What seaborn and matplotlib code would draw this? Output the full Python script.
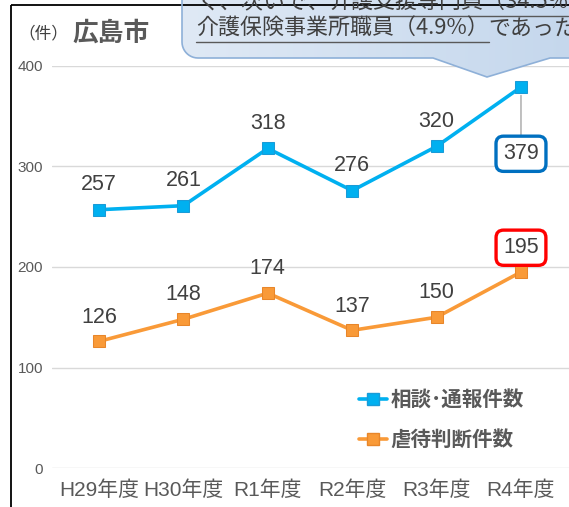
import numpy as np
import pandas as pd
import matplotlib.pyplot as plt
import seaborn as sns
from matplotlib.patches import Polygon
from matplotlib.lines import Line2D
from matplotlib.colors import LinearSegmentedColormap

# データ（広島市）
years = ["H29年度", "H30年度", "R1年度", "R2年度", "R3年度", "R4年度"]
consult = [257, 261, 318, 276, 320, 379]
abuse = [126, 148, 174, 137, 150, 195]
series_names = ["相談･通報件数", "虐待判断件数"]
yticks = [0, 100, 200, 300, 400]

BLUE = "#00B0F0"
BLUE_EDGE = "#1a9bd7"
ORANGE = "#F99A38"
ORANGE_EDGE = "#e8862a"
TXT = "#404040"

df_c = pd.DataFrame({"年度": years, "件数": consult})
df_a = pd.DataFrame({"年度": years, "件数": abuse})

sns.set_theme(style="white")
plt.rcParams["font.family"] = ["Liberation Sans", "Noto Sans CJK JP", "DejaVu Sans"]

W, H = 569, 507
fig = plt.figure(figsize=(W / 100, H / 100), dpi=100)
ax = fig.add_axes([52 / W, 39 / H, 517 / W, 402 / H])

sns.lineplot(data=df_c, x="年度", y="件数", color=BLUE, marker="s", markersize=9,
             markeredgecolor=BLUE_EDGE, linewidth=2.6, ax=ax, sort=False)
sns.lineplot(data=df_a, x="年度", y="件数", color=ORANGE, marker="s", markersize=9,
             markeredgecolor=ORANGE_EDGE, linewidth=2.6, ax=ax, sort=False)
for ln in ax.lines:
    ln.set_clip_on(False)
    ln.set_zorder(3)

ax.set_xlim(-0.557, 5.569)
ax.set_ylim(0, 400)
ax.set_yticks(yticks)
ax.set_xlabel("")
ax.set_ylabel("")
ax.grid(axis="y", color="#d9d9d9", lw=1)
ax.grid(axis="x", visible=False)
for s in ax.spines.values():
    s.set_visible(False)
ax.tick_params(axis="y", length=0, pad=6.5, labelsize=11, labelcolor="#595959")
ax.tick_params(axis="x", length=0, pad=9, labelsize=15, labelcolor="#595959")
ax.set_facecolor("none")

# データラベル
for i, v in enumerate(consult[:-1]):
    ax.annotate(str(v), (i, v), xytext=(0, 18), textcoords="offset points",
                ha="center", va="center", fontsize=15.5, color=TXT)
for i, v in enumerate(abuse[:-1]):
    ax.annotate(str(v), (i, v), xytext=(0, 17.5), textcoords="offset points",
                ha="center", va="center", fontsize=15.5, color=TXT)

# R4 強調ラベル
last = len(years) - 1
ax.annotate(str(consult[-1]), (last, consult[-1]), xytext=(0, -48), textcoords="offset points",
            ha="center", va="center", fontsize=15.5, color=TXT,
            bbox=dict(boxstyle="round,pad=0.33,rounding_size=0.35", fc="white", ec="#0070C0", lw=2.4),
            arrowprops=dict(arrowstyle="-", color="#a6a6a6", lw=1, shrinkA=0, shrinkB=6))
ax.annotate(str(abuse[-1]), (last, abuse[-1]), xytext=(0, 17.5), textcoords="offset points",
            ha="center", va="center", fontsize=15.5, color=TXT,
            bbox=dict(boxstyle="round,pad=0.33,rounding_size=0.35", fc="white", ec="#FF0000", lw=2.4))

handles = [Line2D([], [], color=BLUE, lw=2.6, marker="s", markersize=9, markeredgecolor=BLUE_EDGE),
           Line2D([], [], color=ORANGE, lw=2.6, marker="s", markersize=9, markeredgecolor=ORANGE_EDGE)]
ax.legend(handles, series_names, loc="upper left", bbox_to_anchor=(340 / W, 1 - 372 / H),
          bbox_transform=fig.transFigure, frameon=False, handlelength=1.4, handletextpad=0.15,
          labelspacing=0.95, prop=dict(weight="bold", size=14.8), labelcolor="#595959")

# 上に重ねる装飾（ピクセル座標）
oax = fig.add_axes([0, 0, 1, 1], zorder=5)
oax.set_xlim(0, W)
oax.set_ylim(H, 0)
oax.axis("off")
oax.patch.set_alpha(0)

oax.plot([11, 11], [5, H + 5], color="black", lw=1.3, solid_capstyle="butt")
oax.plot([11, W + 5], [5, 5], color="black", lw=1.3, solid_capstyle="butt")

oax.text(18, 33, "（件）", fontsize=12, color=TXT, va="center", ha="left")
oax.text(72, 33, "広島市", fontsize=18.5, weight="bold", color="#595959", va="center", ha="left")

# 吹き出し
r = 16
arc = [(182 + r - r * np.cos(t), 58 - r + r * np.sin(t)) for t in np.linspace(0, np.pi / 2, 12)]
pts = [(182, -20)] + arc + [(433, 58), (487, 77), (550, 58), (600, 58), (600, -20)]
grad = np.linspace(0, 1, 256).reshape(1, -1)
cm = LinearSegmentedColormap.from_list("bub", ["#dfe9f5", "#c3d6ec"])
im = oax.imshow(grad, extent=(182, 600, 77, -20), cmap=cm, aspect="auto", zorder=1.5)
im.set_clip_path(Polygon(pts, closed=True, transform=oax.transData))
oax.add_patch(Polygon(pts, closed=True, fc="none", ec="#8eb0d8", lw=1.2, zorder=2))
oax.set_xlim(0, W)
oax.set_ylim(H, 0)

renderer = fig.canvas.get_renderer()


def seq_text(x, y, segments, size=15.8):
    for s, under in segments:
        t = oax.text(x, y, s, fontsize=size, color=TXT, va="center", ha="left", zorder=3,
                     family=["Noto Sans CJK JP", "DejaVu Sans"])
        w = t.get_window_extent(renderer).width
        if under:
            oax.plot([x, x + w], [y + 12.5, y + 12.5], color="#595959", lw=1, zorder=3)
        x += w


seq_text(197, 3, [("く、次いで、", False), ("介護支援専門員（34.5%", True), ("）", False)])
seq_text(196, 29, [("介護保険事業所職員（4.9%）", True), ("であった", False)])

fig.savefig("out.png", dpi=100)
